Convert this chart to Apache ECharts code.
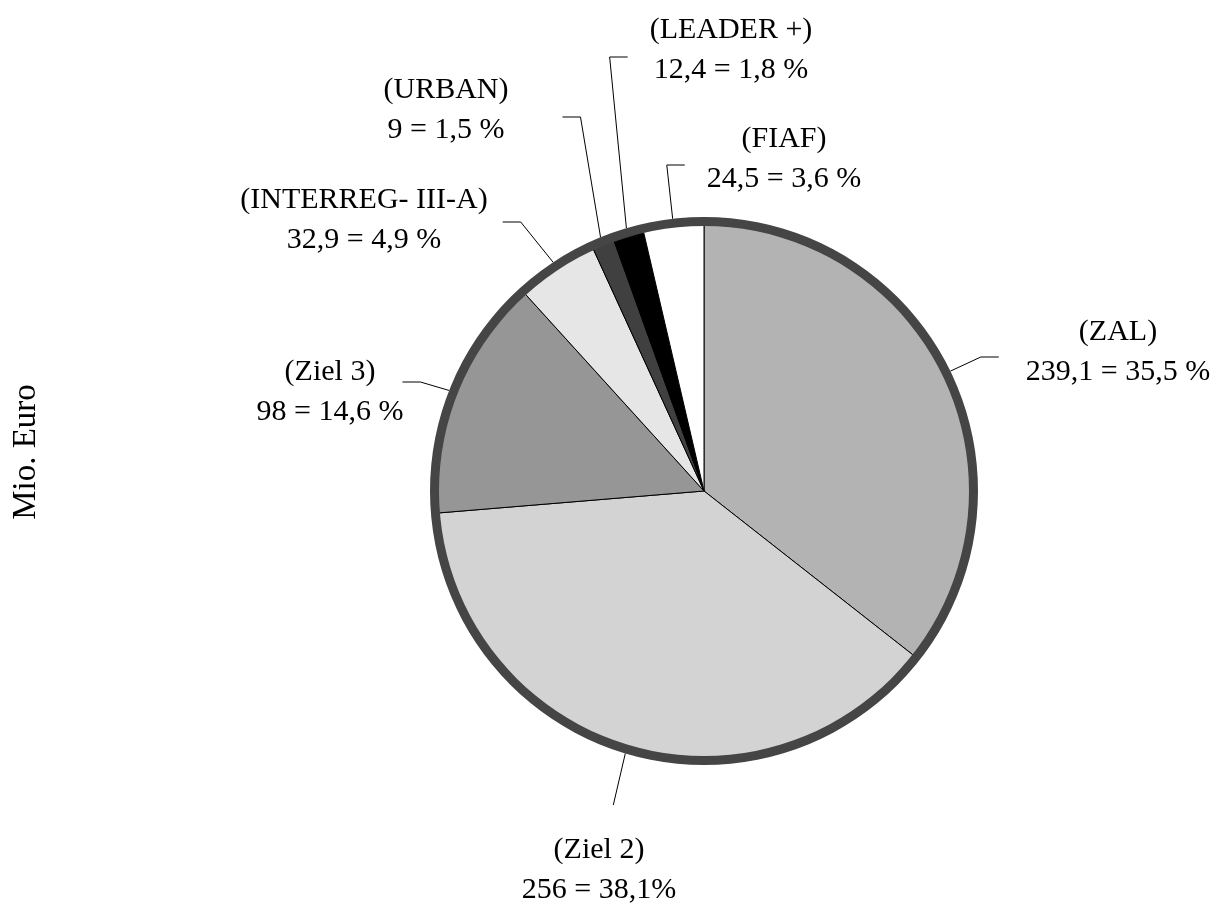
<!DOCTYPE html>
<html>
<head>
<meta charset="utf-8">
<script src="https://cdn.jsdelivr.net/npm/echarts@6/dist/echarts.min.js"></script>
<style>
  html, body { margin:0; padding:0; background:#fff; }
  #chart { width:1219px; height:904px; }
</style>
</head>
<body>
<div id="chart"></div>
<script>
// === Datos (Mio. Euro) ===
const categories  = ['(ZAL)', '(Ziel 2)', '(Ziel 3)', '(INTERREG- III-A)', '(URBAN)', '(LEADER +)', '(FIAF)'];
const values      = [239.1, 256, 98, 32.9, 9, 12.4, 24.5];
const valueText   = ['239,1', '256', '98', '32,9', '9', '12,4', '24,5'];
const percentText = ['35,5 %', '38,1%', '14,6 %', '4,9 %', '1,5 %', '1,8 %', '3,6 %'];

// === Estilo ===
const fills = ['#b3b3b3', '#d3d3d3', '#969696', '#e6e6e6', '#404040', '#000000', '#ffffff'];
const ring  = '#454545';
const serif = '"Liberation Serif", "Times New Roman", serif';
const CENTER = [704, 491], R = 274;

// posición de cada etiqueta (centro del bloque) y lado de la línea guía
const LABEL_LAYOUT = [
  { x:1118, y:352, side:'right', gap:27, dy:5 },
  { x:599,  y:870, side:'top',   gap:25, dy:0 },
  { x:330,  y:392, side:'left',  gap:-1, dy:-10 },
  { x:364,  y:220, side:'left',  gap:15, dy:2 },
  { x:446,  y:110, side:'left',  gap:54, dy:7 },
  { x:731,  y:50,  side:'right', gap:22, dy:7 },
  { x:784,  y:159, side:'right', gap:22, dy:6 }
];

// ángulo medio de cada sector (desde las 12 h, sentido horario)
const total = values.reduce((a,b)=>a+b, 0);
let acc = 0;
const midAngles = values.map(v => { const a = (acc + v/2) / total * 2 * Math.PI; acc += v; return a; });

function layoutLabel(p){
  const L = LABEL_LAYOUT[p.dataIndex];
  const w = p.labelRect.width, h = p.labelRect.height;
  const a = midAngles[p.dataIndex];
  const start = [CENTER[0] + R*Math.sin(a), CENTER[1] - R*Math.cos(a)];
  let end, elbow;
  if (L.side === 'right'){
    end = [L.x - w/2 - L.gap, L.y + L.dy]; elbow = [end[0] - 18, end[1]];
  } else if (L.side === 'left'){
    end = [L.x + w/2 + L.gap, L.y + L.dy]; elbow = [end[0] + 18, end[1]];
  } else {
    end = [start[0] - 12, L.y - h/2 - L.gap]; elbow = end;
  }
  return { x:L.x, y:L.y, align:'center', verticalAlign:'middle', labelLinePoints:[start, elbow, end] };
}

const option = {
  backgroundColor:'#fff',
  animation:false,
  graphic:[{
    type:'text', x:26, y:452, rotation:Math.PI/2,
    style:{ text:'Mio. Euro', font:'33px ' + serif, fill:'#000', textAlign:'center', textVerticalAlign:'middle' }
  }],
  series:[
    {
      type:'pie', center:CENTER, radius:268, startAngle:90, clockwise:true,
      avoidLabelOverlap:false, silent:true,
      itemStyle:{ borderColor:'#000', borderWidth:1 },
      label:{ show:true, position:'outside', fontFamily:serif, fontSize:30, lineHeight:40, color:'#000', align:'center',
        formatter: p => `${p.name}\n${valueText[p.dataIndex]} = ${percentText[p.dataIndex]}` },
      labelLine:{ show:true, lineStyle:{ color:'#000', width:1 } },
      labelLayout: layoutLabel,
      data: categories.map((n,i)=>({ name:n, value:values[i], itemStyle:{ color:fills[i] } }))
    },
    {
      type:'pie', center:CENTER, radius:[R-9, R], silent:true,
      label:{ show:false }, labelLine:{ show:false },
      data:[{ value:1, itemStyle:{ color:ring } }]
    }
  ]
};

echarts.init(document.getElementById('chart')).setOption(option);
</script>
</body>
</html>
